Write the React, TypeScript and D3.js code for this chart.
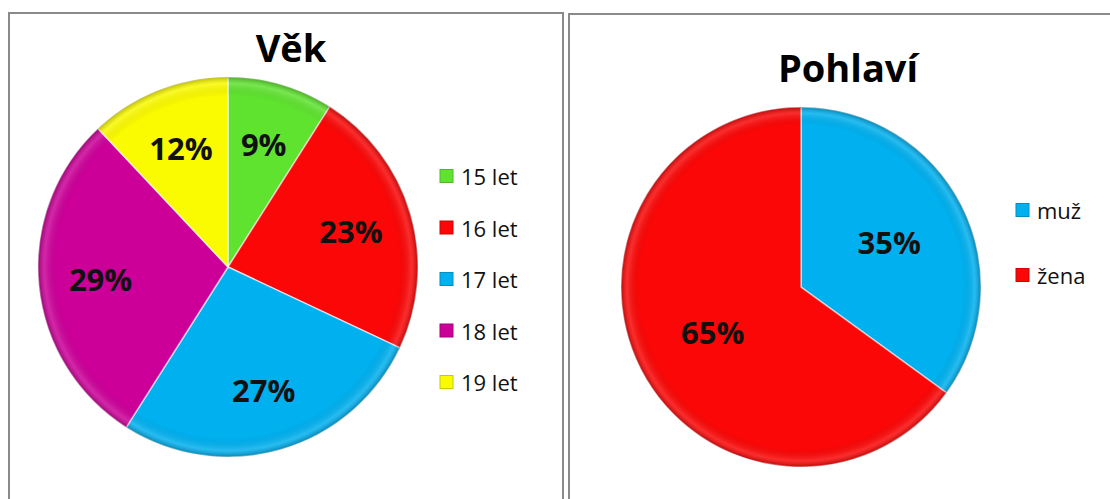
import { useRef, useEffect } from 'react'
import * as d3 from 'd3'

const ageLabels = ['15 let', '16 let', '17 let', '18 let', '19 let']
const ageValues = [9, 23, 27, 29, 12]
const ageColors = ['#5fe32f', '#fb0707', '#00b0ef', '#cc0099', '#fafa00']

const sexLabels = ['muž', 'žena']
const sexValues = [35, 65]
const sexColors = ['#00b0ef', '#fb0707']

type PieSpec = {
  title: string
  labels: string[]
  values: number[]
  colors: string[]
  frame: { x: number; y: number; w: number; h: number }
  cx: number
  cy: number
  r: number
  labelR: number
  titleX: number
  titleY: number
  legendX: number
  legendY: number
  legendStep: number
}

const fontFamily = '"Open Sans", "Noto Sans", sans-serif'

function drawPie(svg: d3.Selection<SVGSVGElement, unknown, null, undefined>, spec: PieSpec, idx: number) {
  const { frame } = spec
  // panel frame
  svg.append('rect')
    .attr('x', frame.x).attr('y', frame.y)
    .attr('width', frame.w).attr('height', frame.h)
    .attr('fill', '#fff')
    .attr('stroke', '#8a8a8a')
    .attr('stroke-width', 2)

  svg.append('text')
    .attr('x', spec.titleX).attr('y', spec.titleY)
    .attr('text-anchor', 'middle')
    .attr('font-family', fontFamily)
    .attr('font-weight', 700)
    .attr('font-size', 38)
    .attr('fill', '#000')
    .text(spec.title)

  const data = spec.labels.map((l, i) => ({ label: l, value: spec.values[i], color: spec.colors[i] }))
  const pie = d3.pie<{ label: string; value: number; color: string }>().sort(null).value((d) => d.value)
  const arcs = pie(data)
  const arc = d3.arc<d3.PieArcDatum<{ label: string; value: number; color: string }>>()
    .innerRadius(0).outerRadius(spec.r)
  const labelArc = d3.arc<d3.PieArcDatum<{ label: string; value: number; color: string }>>()
    .innerRadius(spec.labelR).outerRadius(spec.labelR)

  // shading gradient for the bevel look
  const defs = svg.append('defs')
  const gid = `shade${idx}`
  const grad = defs.append('radialGradient')
    .attr('id', gid)
    .attr('gradientUnits', 'userSpaceOnUse')
    .attr('cx', spec.cx).attr('cy', spec.cy).attr('r', spec.r)
  grad.append('stop').attr('offset', '0.9').attr('stop-color', '#000').attr('stop-opacity', 0)
  grad.append('stop').attr('offset', '0.965').attr('stop-color', '#fff').attr('stop-opacity', 0.15)
  grad.append('stop').attr('offset', '1').attr('stop-color', '#000').attr('stop-opacity', 0.25)

  const g = svg.append('g').attr('transform', `translate(${spec.cx},${spec.cy})`)

  g.selectAll('path.slice')
    .data(arcs)
    .join('path')
    .attr('class', 'slice')
    .attr('d', arc)
    .attr('fill', (d) => d.data.color)
    .attr('stroke', '#fff')
    .attr('stroke-width', 1.5)
    .attr('stroke-opacity', 0.6)

  svg.append('circle')
    .attr('cx', spec.cx).attr('cy', spec.cy).attr('r', spec.r)
    .attr('fill', `url(#${gid})`)
    .attr('pointer-events', 'none')

  g.selectAll('text.pct')
    .data(arcs)
    .join('text')
    .attr('class', 'pct')
    .attr('transform', (d) => `translate(${labelArc.centroid(d)})`)
    .attr('text-anchor', 'middle')
    .attr('dominant-baseline', 'central')
    .attr('font-family', fontFamily)
    .attr('font-weight', 700)
    .attr('font-size', 31)
    .attr('fill', '#111')
    .text((d) => `${d.data.value}%`)

  const lg = svg.append('g')
  data.forEach((d, i) => {
    const y = spec.legendY + i * spec.legendStep
    lg.append('rect')
      .attr('x', spec.legendX).attr('y', y - 6.5)
      .attr('width', 13).attr('height', 13)
      .attr('fill', d.color)
      .attr('stroke', d3.color(d.color)!.darker(0.6).toString())
      .attr('stroke-width', 1)
    lg.append('text')
      .attr('x', spec.legendX + 21).attr('y', y)
      .attr('dominant-baseline', 'central')
      .attr('font-family', fontFamily)
      .attr('font-size', 22)
      .attr('fill', '#111')
      .text(d.label)
  })
}

export default function App() {
  const svgRef = useRef<SVGSVGElement>(null)

  useEffect(() => {
    if (!svgRef.current) return
    const svg = d3.select(svgRef.current)
    svg.selectAll('*').remove()

    drawPie(svg, {
      title: 'Věk', labels: ageLabels, values: ageValues, colors: ageColors,
      frame: { x: 9, y: 13, w: 554, h: 500 },
      cx: 228, cy: 267, r: 190, labelR: 128,
      titleX: 291, titleY: 62,
      legendX: 440, legendY: 176, legendStep: 51.5,
    }, 0)

    drawPie(svg, {
      title: 'Pohlaví', labels: sexLabels, values: sexValues, colors: sexColors,
      frame: { x: 569, y: 14, w: 560, h: 500 },
      cx: 801, cy: 287, r: 180, labelR: 99,
      titleX: 848, titleY: 82,
      legendX: 1016, legendY: 210, legendStep: 65,
    }, 1)
  }, [])

  return (
    <svg
      ref={svgRef}
      width={1110}
      height={499}
      style={{ position: 'fixed', left: 0, top: 0, background: '#fff' }}
    />
  )
}
